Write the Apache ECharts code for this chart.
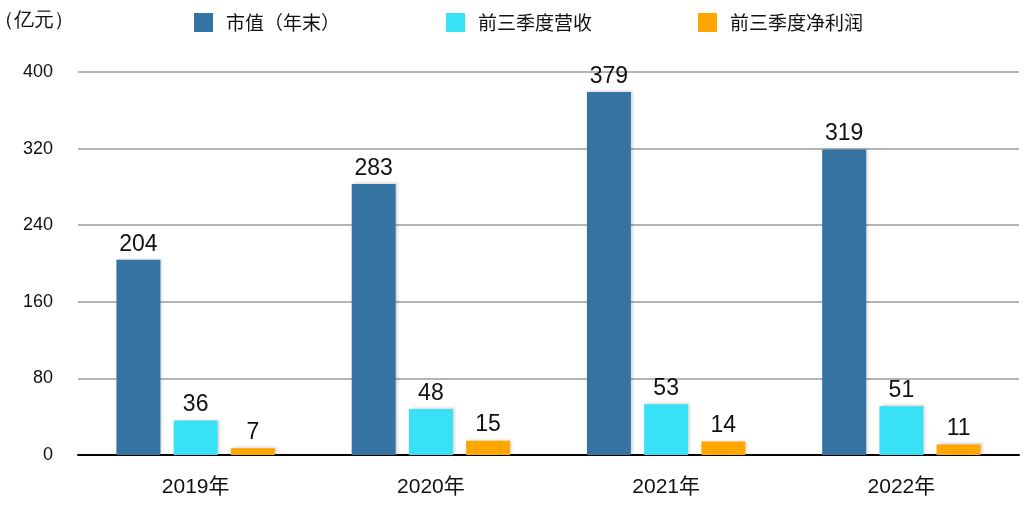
<!DOCTYPE html>
<html><head><meta charset="utf-8">
<script src="https://cdn.jsdelivr.net/npm/echarts@6/dist/echarts.min.js"></script>
<style>html,body{margin:0;padding:0;background:#fff}#c{width:1026px;height:506px}</style>
</head><body><div id="c"></div>
<script>
const categories = ['2019年', '2020年', '2021年', '2022年'];
const marketCap = [204, 283, 379, 319];
const revenue = [36, 48, 53, 51];
const netProfit = [7, 15, 14, 11];
const seriesNames = ['市值（年末）', '前三季度营收', '前三季度净利润'];
const colors = ['#3573a3', '#38e1f6', '#ffa600'];
const yTicks = [0, 80, 160, 240, 320, 400];
const unitLabel = '（亿元）';

const font = '"Noto Sans CJK SC", "Noto Sans", sans-serif';
const latin = '"Liberation Sans", Arial, "Noto Sans CJK SC", sans-serif';
const chart = echarts.init(document.getElementById('c'));
const mk = (name, data, color) => ({
  name, type: 'bar', data,
  barWidth: 44, barGap: '30%',
  itemStyle: { color, shadowColor: 'rgba(0,0,0,0.18)', shadowBlur: 3, shadowOffsetX: 2, shadowOffsetY: -1 },
  label: { show: true, position: 'top', distance: 4, color: '#111', fontSize: 23, fontFamily: latin }
});
const legendLefts = [194, 446, 698];
chart.setOption({
  animation: false,
  textStyle: { fontFamily: font },
  color: colors,
  legend: seriesNames.map((n, i) => ({
    left: legendLefts[i], top: 13, itemWidth: 19, itemHeight: 19,
    icon: 'rect', padding: 0,
    textStyle: { fontSize: 19, color: '#111', padding: [0, 0, 0, 8], fontFamily: font },
    data: [n]
  })),
  graphic: [{
    type: 'text', left: -6, top: 10,
    style: { text: unitLabel, fontSize: 20, fill: '#111', font: '20px ' + font }
  }],
  grid: { left: 78, right: 7, top: 72, bottom: 51, containLabel: false, outerBoundsMode: 'none' },
  xAxis: {
    type: 'category', data: categories,
    axisLine: { lineStyle: { color: '#000', width: 2 } },
    axisTick: { show: false },
    axisLabel: { fontSize: 21, color: '#111', margin: 22, fontFamily: latin }
  },
  yAxis: {
    type: 'value', min: yTicks[0], max: yTicks[yTicks.length - 1], interval: 80,
    axisLine: { show: false }, axisTick: { show: false },
    axisLabel: { fontSize: 18, color: '#111', margin: 25, fontFamily: latin },
    splitLine: { lineStyle: { color: '#b4b4b4', width: 2 } }
  },
  series: [mk(seriesNames[0], marketCap, colors[0]), mk(seriesNames[1], revenue, colors[1]), mk(seriesNames[2], netProfit, colors[2])]
});
</script></body></html>
